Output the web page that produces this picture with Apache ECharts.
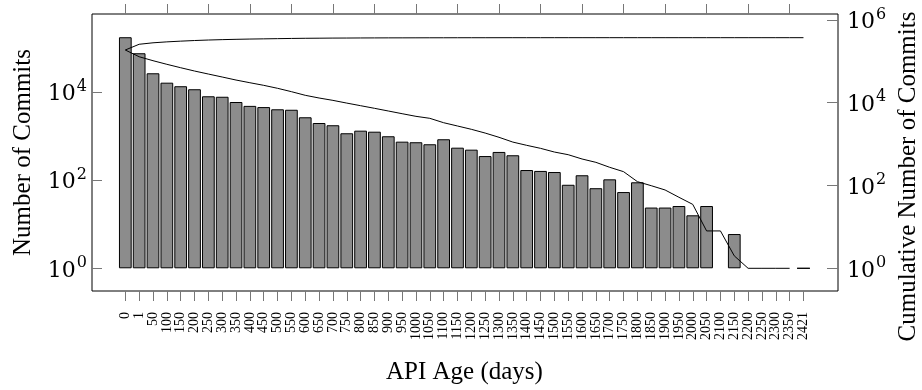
<!DOCTYPE html>
<html>
<head>
<meta charset="utf-8">
<script src="https://cdn.jsdelivr.net/npm/echarts@6/dist/echarts.min.js"></script>
<style>
  html, body { margin: 0; padding: 0; background: #fff; }
  #chart { width: 922px; height: 390px; }
</style>
</head>
<body>
<div id="chart"></div>
<script>
// API age buckets (days)
const ageLabels = ['0', '1', '50', '100', '150', '200', '250', '300', '350', '400',
  '450', '500', '550', '600', '650', '700', '750', '800', '850', '900',
  '950', '1000', '1050', '1100', '1150', '1200', '1250', '1300', '1350', '1400',
  '1450', '1500', '1550', '1600', '1650', '1700', '1750', '1800', '1850', '1900',
  '1950', '2000', '2050', '2100', '2150', '2200', '2250', '2300', '2350', '2421'];

// bars, left axis
const commitCounts = [178000, 77000, 27000, 16500, 13700, 11700, 8100, 7900, 6000, 4900,
  4600, 4100, 4000, 2700, 2000, 1780, 1170, 1340, 1270, 1000,
  754, 731, 658, 855, 550, 496, 355, 440, 370, 171,
  163, 154, 79, 130, 66, 105, 54, 90, 24, 24,
  26, 16, 26, null, 6, null, null, null, null, 1];

// lines, right axis
const cumulativeCommits = [188000, 258000, 280000, 295000, 307000, 318000, 327000, 334000, 340000, 345000,
  349000, 353000, 357000, 360000, 362000, 364000, 365000, 366500, 367500, 368500,
  369000, 369500, 370000, 370500, 371000, 371300, 371600, 371800, 372000, 372100,
  372200, 372300, 372300, 372400, 372400, 372500, 372500, 372500, 372500, 372500,
  372500, 372500, 372500, 372500, 372500, 372500, 372500, 372500, 372500, 372500];

const remainingCommits = [187500, 129000, 103500, 84700, 70000, 58300, 49300, 41800, 35300, 30400,
  26300, 22300, 18500, 15100, 13000, 11400, 9800, 8470, 7330, 6310,
  5430, 4690, 4200, 3290, 2740, 2280, 1850, 1460, 1120, 935,
  791, 644, 555, 437, 363, 275, 216, 124, 99, 78,
  52, 35, 8, 8, 2, 1, 1, 1, 1, null];

const leftTicks = [1, 100, 10000];
const rightTicks = [1, 100, 10000, 1000000];

const serif = "'Liberation Serif', 'Times New Roman', serif";
const numFont = "'DejaVu Serif', serif";
const powLabel = v => '{b|10}{e|' + Math.round(Math.log10(v)) + '}';
const powRich = {
  b: { fontFamily: numFont, fontSize: 22, lineHeight: 22, padding: [5, 0, 0, 0], color: '#000' },
  e: { fontFamily: numFont, fontSize: 16, lineHeight: 16, padding: [0, 0, 11, 1], color: '#000' }
};
const tickStyle = { color: '#777', width: 1 };

const chart = echarts.init(document.getElementById('chart'));
chart.setOption({
  animation: false,
  backgroundColor: '#fff',
  grid: [
    { left: 118.4, top: 14, width: 692, height: 277, outerBoundsMode: 'none' },
    // frame around the plot
    { left: 92, top: 14, width: 746, height: 277, show: true, borderColor: '#000', borderWidth: 1,
      backgroundColor: 'transparent', outerBoundsMode: 'none' }
  ],
  xAxis: [
    {
      type: 'category', gridIndex: 0, position: 'bottom', data: ageLabels,
      axisLine: { show: false },
      axisTick: { show: true, alignWithLabel: true, length: 10, lineStyle: tickStyle },
      axisLabel: { interval: 0, rotate: 90, margin: 21, fontFamily: serif, fontSize: 14, color: '#000' },
      name: 'API Age (days)', nameLocation: 'middle', nameGap: 69, nameMoveOverlap: false,
      nameTextStyle: { fontFamily: serif, fontSize: 25, color: '#000' }
    },
    {
      type: 'category', gridIndex: 0, position: 'top', data: ageLabels,
      axisLine: { show: false },
      axisTick: { show: true, alignWithLabel: true, length: 10, lineStyle: tickStyle },
      axisLabel: { show: false }
    }
  ],
  yAxis: [
    {
      type: 'log', logBase: 10, gridIndex: 0, position: 'left', offset: 26.4,
      min: 0.3048, max: 599800,
      axisLine: { show: false }, splitLine: { show: false },
      axisTick: { show: true, inside: true, length: 10, lineStyle: tickStyle, customValues: leftTicks },
      axisLabel: { customValues: leftTicks, margin: 5, formatter: powLabel, rich: powRich },
      name: 'Number of Commits', nameLocation: 'middle', nameGap: 56, nameMoveOverlap: false,
      nameTextStyle: { fontFamily: serif, fontSize: 25, color: '#000' }
    },
    {
      type: 'log', logBase: 10, gridIndex: 0, position: 'right', offset: 27.6,
      min: 0.2831, max: 1390000,
      axisLine: { show: false }, splitLine: { show: false },
      axisTick: { show: true, inside: true, length: 11, lineStyle: tickStyle, customValues: rightTicks },
      axisLabel: { customValues: rightTicks, margin: 9, formatter: powLabel, rich: powRich },
      name: 'Cumulative Number of Commits', nameLocation: 'middle', nameGap: 58, nameMoveOverlap: false,
      nameTextStyle: { fontFamily: serif, fontSize: 25, color: '#000', padding: [0, 48, 0, 0] }
    }
  ],
  series: [
    {
      type: 'bar', xAxisIndex: 0, yAxisIndex: 0, data: commitCounts,
      barWidth: '92%',
      itemStyle: { color: '#8c8c8c', borderColor: '#000', borderWidth: 1 }
    },
    {
      type: 'line', xAxisIndex: 0, yAxisIndex: 1, data: cumulativeCommits,
      symbol: 'none', lineStyle: { color: '#000', width: 1 }
    },
    {
      type: 'line', xAxisIndex: 0, yAxisIndex: 1, data: remainingCommits,
      symbol: 'none', lineStyle: { color: '#000', width: 1 }
    }
  ]
});
</script>
</body>
</html>
